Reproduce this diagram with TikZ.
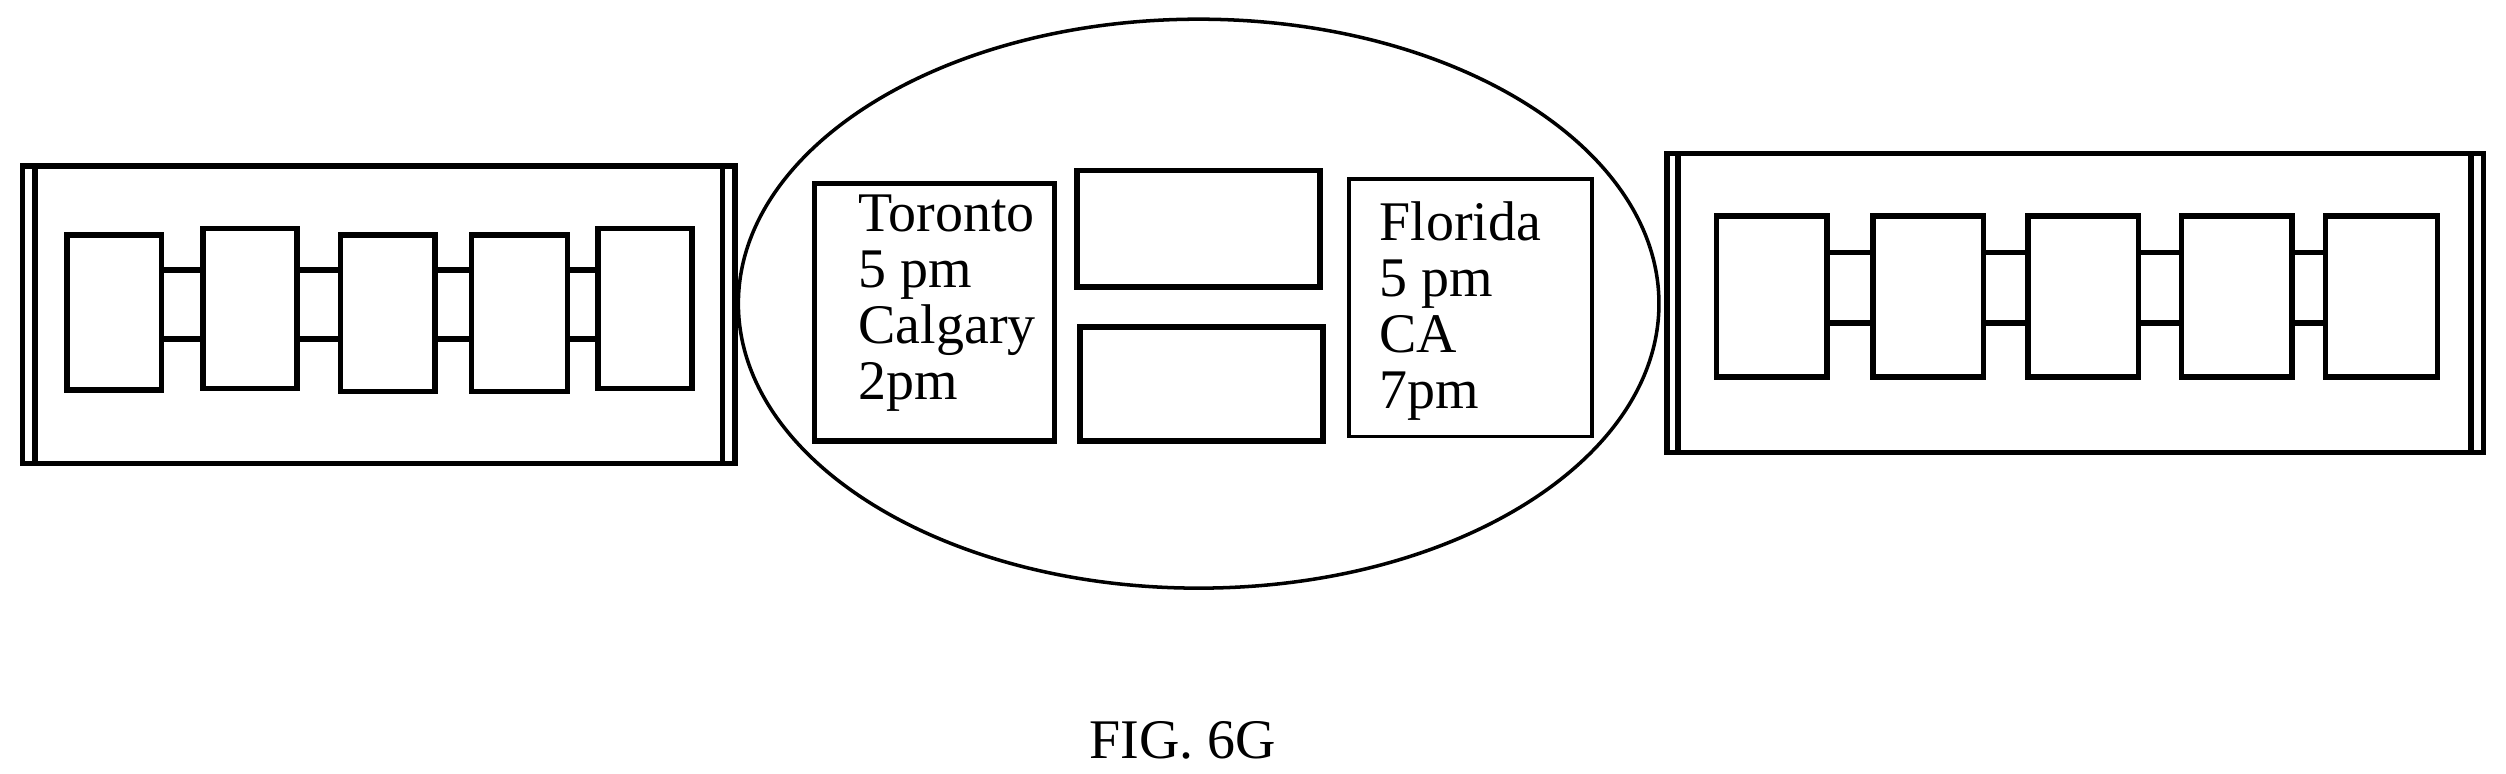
\documentclass[tikz,border=0pt]{standalone}
\usepackage{fontspec}
\setmainfont{Liberation Serif}
\begin{document}
\begin{tikzpicture}[x=1pt,y=-1pt,
  thick box/.style={draw,line width=3.5pt},
  thin box/.style={draw,line width=2.2pt},
  lbl/.style={anchor=north west,align=left,inner sep=0pt,font=\fontsize{35}{35}\selectfont}]
\useasboundingbox (0,0) rectangle (1568,484);
% left panel
\draw[thick box] (14,104) rectangle (460,290);
\draw[line width=3.5pt] (22,104) -- (22,290) (452,104) -- (452,290);
\foreach \a/\b/\c/\d [count=\i] in {42/147/101/244,127/143/186/243,213/147/272/245,295/147/355/245,374/143/433/243}
  \draw[thick box] (\a,\b) rectangle (\c,\d) coordinate (L\i);
\foreach \a/\b in {101/127,186/213,272/295,355/374}{
  \draw[line width=3.5pt] (\a,169) -- (\b,169) (\a,212) -- (\b,212);}
% ellipse
\draw[line width=2.2pt] (750,190) ellipse (288 and 178);
\node[thick box,minimum width=150pt,minimum height=161pt,anchor=north west,inner sep=0pt] (tor) at (508,113) {};
\node[lbl] at (537,122) {Toronto\\5 pm\\Calgary\\2pm};
\node[thick box,minimum width=152pt,minimum height=73pt,anchor=north west] (m1) at (672,105) {};
\node[thick box,minimum width=152pt,minimum height=71pt,anchor=north west] (m2) at (674,203) {};
\node[thin box,minimum width=152pt,minimum height=161pt,anchor=north west] (fl) at (843,111) {};
\node[lbl] at (863,126) {Florida\\5 pm\\CA\\7pm};
% right panel
\draw[thick box] (1043,96) rectangle (1554,283);
\draw[line width=3.5pt] (1050,96) -- (1050,283) (1546,96) -- (1546,283);
\foreach \a/\c in {1074/1143,1172/1241,1269/1338,1365/1434,1455/1525}
  \draw[thick box] (\a,135) rectangle (\c,236);
\foreach \a/\b in {1143/1172,1241/1269,1338/1365,1434/1455}{
  \draw[line width=3.5pt] (\a,158) -- (\b,158) (\a,202) -- (\b,202);}
\node[font=\fontsize{35}{35}\selectfont] (cap) at (740,463) {FIG. 6G};
\end{tikzpicture}
\end{document}
